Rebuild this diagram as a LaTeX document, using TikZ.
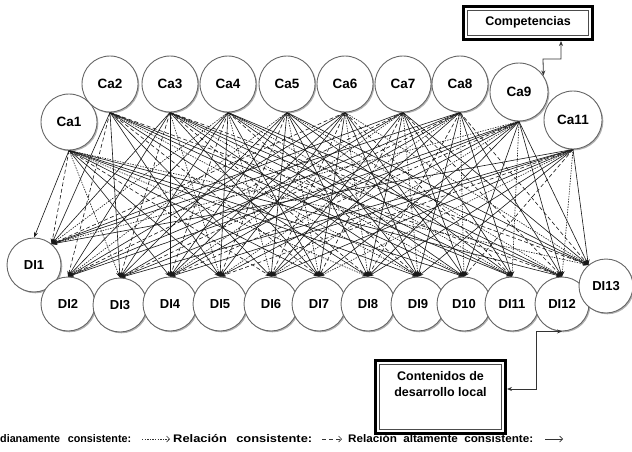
\documentclass[tikz,border=0pt]{standalone}
\usepackage{fontspec}
\setmainfont{Liberation Sans}
\usetikzlibrary{arrows.meta,shadows}
\pgfdeclarelayer{edges}
\pgfsetlayers{edges,main}
\begin{document}
\begin{tikzpicture}[x=1pt,y=-1pt,
  cnode/.style={circle,draw=black!60,line width=0.9pt,fill=white,inner sep=0pt,
    drop shadow={shadow xshift=1.3pt,shadow yshift=-1.3pt,opacity=0.3,fill=black}},
  canode/.style={cnode,minimum size=56pt,font=\bfseries\fontsize{13.5}{13.5}\selectfont},
  dinode/.style={cnode,minimum size=54pt,font=\bfseries\fontsize{13}{13}\selectfont},
  hi/.style={-{Stealth[length=5.5pt,width=4pt]},draw=black!90,line width=0.62pt},
  mid/.style={hi,dash pattern=on 4pt off 2.5pt},
  low/.style={hi,dash pattern=on 1.4pt off 1.2pt},
  e0/.style={mid}, e1/.style={low}, e2/.style={hi}, e3/.style={hi}, e4/.style={hi},
  dbox/.style={draw=black,line width=2.8pt,fill=white,inner sep=0pt},
  inbox/.style={draw=black!70,line width=0.7pt},
  lbl/.style={font=\bfseries\fontsize{12.5}{16}\selectfont,align=center,inner sep=0pt},
  leg/.style={font=\bfseries\fontsize{11}{11}\selectfont,anchor=west,inner sep=0pt},
  bi/.style={{Stealth[length=5pt,width=4pt]}-{Stealth[length=5pt,width=4pt]},draw=black!80,line width=0.8pt},
  legarrow/.style={-{Straight Barb[length=3pt,width=6pt]},draw=black!80,line width=0.7pt},
]
\useasboundingbox (0,0) rectangle (632,452);

% top row
\node[canode] (ca1) at (69,122) {Ca1};
\node[canode] (ca2) at (110,84) {Ca2};
\node[canode] (ca3) at (170,84) {Ca3};
\node[canode] (ca4) at (228,84) {Ca4};
\node[canode] (ca5) at (287,84) {Ca5};
\node[canode] (ca6) at (345,84) {Ca6};
\node[canode] (ca7) at (403,84) {Ca7};
\node[canode] (ca8) at (460,84) {Ca8};
\node[canode,minimum size=58pt] (ca9) at (519,92) {Ca9};
\node[canode,minimum size=58pt] (ca11) at (573,120) {Ca11};

% bottom row
\node[dinode] (di1) at (34,265) {DI1};
\node[dinode] (di2) at (68,304) {DI2};
\node[dinode] (di3) at (120,305) {DI3};
\node[dinode] (di4) at (170,304) {DI4};
\node[dinode] (di5) at (220,304) {DI5};
\node[dinode] (di6) at (271,304) {DI6};
\node[dinode] (di7) at (319,304) {DI7};
\node[dinode] (di8) at (368,304) {DI8};
\node[dinode] (di9) at (418,304) {DI9};
\node[dinode] (di10) at (464,304) {D10};
\node[dinode] (di11) at (512,304) {DI11};
\node[dinode] (di12) at (562,304) {DI12};
\node[dinode] (di13) at (606,286) {DI13};

% relations
\begin{pgfonlayer}{edges}
\foreach \a [count=\i] in {ca1,ca2,ca3,ca4,ca5,ca6,ca7,ca8,ca9,ca11}{
  \foreach \d/\an [count=\j] in {di1/50,di2/north,di3/north,di4/north,di5/north,di6/north,di7/north,di8/north,di9/north,di10/north,di11/north,di12/north,di13/130}{
    \pgfmathtruncatemacro{\k}{mod(\i*5+\j*11,9)}
    \pgfmathtruncatemacro{\s}{mod(\i*7+\j*3,5)}
    \ifnum\k>0 \draw[e\s] (\a.south) -- (\d.\an); \fi
  }
}
\draw[hi] (ca1.south) -- (di1.north);
\end{pgfonlayer}

% Competencias box
\node[dbox,minimum width=129.2pt,minimum height=33.2pt] (comp) at (528,23) {};
\draw[inbox] ([shift={(5.2,5.2)}]comp.north west) rectangle ([shift={(-5.2,-5.2)}]comp.south east);
\node[lbl] (complbl) at (528,22) {Competencias};
\coordinate (k1) at (561,59);
\coordinate (k2) at (543,59);
\draw[bi] (comp.south -| k1) -- (k1) -- (k2) -- (ca9.34);

% Contenidos box
\node[dbox,minimum width=130.2pt,minimum height=73.2pt] (cont) at (440.5,397) {};
\draw[inbox] ([shift={(5.2,5.2)}]cont.north west) rectangle ([shift={(-5.2,-5.2)}]cont.south east);
\node[lbl] (contlbl) at (440.5,384) {Contenidos de\\desarrollo local};
\coordinate (d1) at (536,389);
\draw[bi] (di12.south) -| (d1) -- (cont.east |- d1);

% legend
\node[leg] (l1) at (0,439) {\resizebox{131pt}{\height}{dianamente\hspace{8pt}consistente:}};
\coordinate (a1s) at (142,439); \coordinate (a1e) at (170,439);
\draw[legarrow,dash pattern=on 1.3pt off 1.3pt] (a1s) -- (a1e);
\node[leg] (l2) at (173,439) {\resizebox{139pt}{\height}{Relación\hspace{8pt}consistente:}};
\coordinate (a2s) at (322,439); \coordinate (a2e) at (342,439);
\draw[legarrow,dash pattern=on 4pt off 3pt] (a2s) -- (a2e);
\node[leg] (l3) at (348,439) {\resizebox{185pt}{\height}{Relación\hspace{6pt}altamente\hspace{6pt}consistente:}};
\coordinate (a3s) at (545,439); \coordinate (a3e) at (563,439);
\draw[legarrow] (a3s) -- (a3e);
\end{tikzpicture}
\end{document}
